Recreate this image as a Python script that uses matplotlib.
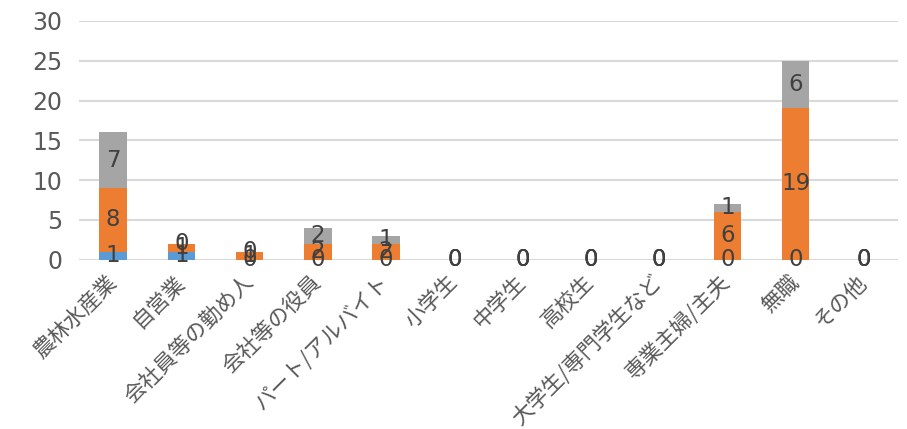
import matplotlib
matplotlib.use("Agg")
import matplotlib.pyplot as plt
import numpy as np

plt.rcParams['font.family'] = ['Noto Sans CJK JP', 'DejaVu Sans']

categories = ["農林水産業", "自営業", "会社員等の勤め人", "会社等の役員", "パート/アルバイト",
              "小学生", "中学生", "高校生", "大学生/専門学生など", "専業主婦/主夫", "無職", "その他"]
series1 = [1, 1, 0, 0, 0, 0, 0, 0, 0, 0, 0, 0]
series2 = [8, 1, 1, 2, 2, 0, 0, 0, 0, 6, 19, 0]
series3 = [7, 0, 0, 2, 1, 0, 0, 0, 0, 1, 6, 0]
colors = ["#5B9BD5", "#ED7D31", "#A5A5A5"]
yticks = [0, 5, 10, 15, 20, 25, 30]

num_font = ['DejaVu Sans']

fig = plt.figure(figsize=(9.07, 4.29), dpi=100)
ax = fig.add_axes([79/907, 1-259.5/429, 819/907, (259.5-21)/429])

x = np.arange(len(categories))
bottom = np.zeros(len(categories))
for vals, c in zip([series1, series2, series3], colors):
    v = np.array(vals, dtype=float)
    ax.bar(x, v, 0.40, bottom=bottom, color=c, zorder=2)
    for xi, b, h in zip(x, bottom, v):
        ax.text(xi, b + h/2, f"{int(h)}", ha='center', va='center',
                fontsize=16.5, color="#404040", zorder=3, family=num_font)
    bottom += v

ax.set_xlim(-0.5, len(categories)-0.5)
ax.set_ylim(0, 30)
ax.set_yticks(yticks)
ax.set_yticklabels([str(t) for t in yticks], family=num_font)
ax.yaxis.grid(True, color="#D9D9D9", linewidth=1.5, zorder=0)
ax.set_axisbelow(True)
for s in ax.spines.values():
    s.set_visible(False)
ax.tick_params(axis='y', length=0, pad=12, labelsize=17, labelcolor="#595959")
ax.tick_params(axis='x', length=0, pad=14, labelsize=15.5, labelcolor="#595959")
ax.set_xticks(x)
ax.set_xticklabels(categories, rotation=45, ha='right', va='center', rotation_mode='anchor')

fig.savefig("out.png", dpi=100)
